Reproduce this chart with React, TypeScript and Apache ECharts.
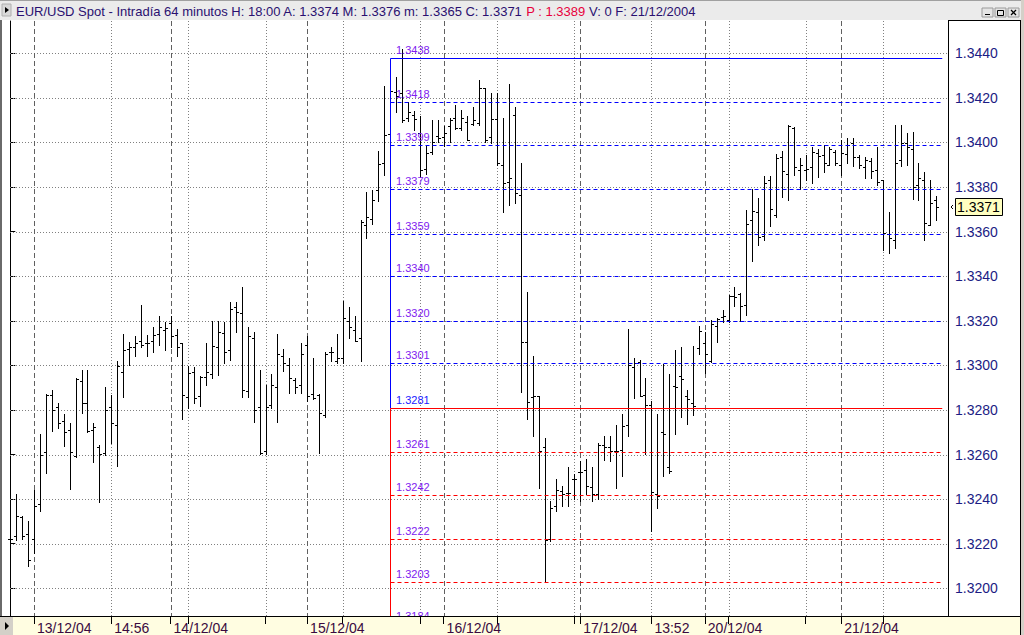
import React, { useEffect, useRef } from 'react';
import * as echarts from 'echarts';

// ---------- DATA (EUR/USD 64-minute bars, 13/12/04 - 21/12/04) ----------
const openP = [
  1.32220, 1.32233, 1.32320, 1.32242, 1.32220, 1.32380, 1.32611, 1.32865, 1.32812, 1.32750,
  1.32710, 1.32595, 1.32929, 1.32833, 1.32710, 1.32632, 1.32609, 1.32815, 1.32733, 1.32970,
  1.33075, 1.33081, 1.33110, 1.33100, 1.33110, 1.33139, 1.33160, 1.33192, 1.33138, 1.33100,
  1.32856, 1.32970, 1.32863, 1.32946, 1.32962, 1.33082, 1.33145, 1.33070, 1.33262, 1.33235,
  1.32884, 1.33123, 1.32815, 1.32617, 1.32821, 1.32905, 1.33043, 1.33003, 1.32935, 1.32911,
  1.33091, 1.32872, 1.32865, 1.32779, 1.33059, 1.33020, 1.33033, 1.33199, 1.33160, 1.33123,
  1.33630, 1.33658, 1.33787, 1.33907, 1.34038, 1.34226, 1.34221, 1.34110, 1.34123, 1.34041,
  1.33883, 1.33956, 1.34031, 1.34023, 1.34076, 1.34108, 1.34064, 1.34093, 1.34083, 1.34086,
  1.34243, 1.34026, 1.34104, 1.33899, 1.33822, 1.34123, 1.33764, 1.33105, 1.32858, 1.32863,
  1.32634, 1.32221, 1.32369, 1.32438, 1.32427, 1.32492, 1.32522, 1.32531, 1.32454, 1.32423,
  1.32643, 1.32634, 1.32617, 1.32620, 1.32733, 1.32994, 1.33015, 1.32867, 1.32822, 1.32423,
  1.32701, 1.32545, 1.32909, 1.32951, 1.32861, 1.32829, 1.33078, 1.33101, 1.33018, 1.33178,
  1.33218, 1.33202, 1.33311, 1.33322, 1.33271, 1.33652, 1.33690, 1.33581, 1.33832, 1.33675,
  1.33936, 1.33859, 1.34063, 1.33877, 1.33877, 1.33891, 1.33951, 1.33944, 1.33899, 1.33959,
  1.33899, 1.33948, 1.33996, 1.33936, 1.33891, 1.33918, 1.33877, 1.33832, 1.33590, 1.33563,
  1.33921, 1.33999, 1.33969, 1.33809, 1.33832, 1.33630, 1.33740
];
const highP = [
  1.32271, 1.32421, 1.32326, 1.32301, 1.32443, 1.32694, 1.32872, 1.32890, 1.32833, 1.32782,
  1.32740, 1.32944, 1.32980, 1.32980, 1.32742, 1.32644, 1.32905, 1.32865, 1.33020, 1.33142,
  1.33103, 1.33133, 1.33273, 1.33138, 1.33172, 1.33223, 1.33196, 1.33223, 1.33163, 1.33100,
  1.32995, 1.32992, 1.32953, 1.33100, 1.33199, 1.33199, 1.33193, 1.33283, 1.33283, 1.33352,
  1.33172, 1.33151, 1.32980, 1.32913, 1.32960, 1.33142, 1.33072, 1.33033, 1.32943, 1.33100,
  1.33133, 1.33034, 1.32871, 1.33058, 1.33082, 1.33142, 1.33290, 1.33262, 1.33223, 1.33652,
  1.33779, 1.33787, 1.33960, 1.34253, 1.34244, 1.34295, 1.34419, 1.34183, 1.34142, 1.34119,
  1.33989, 1.34101, 1.34101, 1.34076, 1.34108, 1.34168, 1.34146, 1.34119, 1.34158, 1.34280,
  1.34243, 1.34223, 1.34223, 1.34108, 1.34261, 1.34160, 1.33908, 1.33329, 1.33042, 1.32863,
  1.32674, 1.32393, 1.32490, 1.32460, 1.32544, 1.32513, 1.32572, 1.32582, 1.32544, 1.32652,
  1.32683, 1.32685, 1.32733, 1.32782, 1.33165, 1.33034, 1.33024, 1.32943, 1.32838, 1.32782,
  1.33005, 1.32961, 1.33069, 1.33083, 1.32890, 1.33085, 1.33178, 1.33150, 1.33204, 1.33213,
  1.33250, 1.33314, 1.33352, 1.33325, 1.33699, 1.33790, 1.33749, 1.33850, 1.33850, 1.33948,
  1.33963, 1.34078, 1.34068, 1.33929, 1.33944, 1.33981, 1.33969, 1.33989, 1.33978, 1.33966,
  1.34011, 1.34019, 1.34019, 1.33944, 1.33936, 1.33929, 1.33981, 1.33832, 1.33690, 1.34078,
  1.34078, 1.34041, 1.34048, 1.33906, 1.33869, 1.33832, 1.33760
];
const lowP = [
  1.32170, 1.32218, 1.32220, 1.32101, 1.32158, 1.32347, 1.32518, 1.32706, 1.32720, 1.32640,
  1.32446, 1.32590, 1.32788, 1.32703, 1.32568, 1.32388, 1.32600, 1.32650, 1.32549, 1.32860,
  1.33000, 1.33043, 1.33082, 1.33040, 1.33058, 1.33090, 1.33069, 1.33081, 1.33040, 1.32758,
  1.32810, 1.32829, 1.32820, 1.32910, 1.32943, 1.32959, 1.33009, 1.33025, 1.33148, 1.32860,
  1.32860, 1.32748, 1.32601, 1.32601, 1.32810, 1.32748, 1.32977, 1.32878, 1.32878, 1.32878,
  1.32838, 1.32851, 1.32608, 1.32770, 1.33018, 1.33010, 1.33010, 1.33123, 1.33108, 1.33020,
  1.33571, 1.33634, 1.33739, 1.33854, 1.33944, 1.34138, 1.34093, 1.34098, 1.34056, 1.33846,
  1.33859, 1.33949, 1.34001, 1.33986, 1.34001, 1.34059, 1.34056, 1.34011, 1.34078, 1.34078,
  1.34003, 1.33996, 1.33899, 1.33689, 1.33720, 1.33727, 1.32881, 1.32761, 1.32681, 1.32450,
  1.32033, 1.32212, 1.32348, 1.32369, 1.32369, 1.32401, 1.32393, 1.32425, 1.32393, 1.32401,
  1.32577, 1.32572, 1.32450, 1.32502, 1.32681, 1.32853, 1.32861, 1.32601, 1.32257, 1.32361,
  1.32502, 1.32518, 1.32690, 1.32769, 1.32737, 1.32777, 1.33050, 1.32966, 1.33015, 1.33106,
  1.33195, 1.33195, 1.33266, 1.33197, 1.33226, 1.33470, 1.33540, 1.33563, 1.33625, 1.33667,
  1.33757, 1.33742, 1.33854, 1.33790, 1.33832, 1.33817, 1.33847, 1.33869, 1.33899, 1.33899,
  1.33854, 1.33906, 1.33894, 1.33884, 1.33839, 1.33839, 1.33809, 1.33518, 1.33506, 1.33525,
  1.33894, 1.33899, 1.33746, 1.33742, 1.33563, 1.33630, 1.33650
];
const closeP = [
  1.32220, 1.32323, 1.32233, 1.32128, 1.32371, 1.32600, 1.32865, 1.32799, 1.32743, 1.32700,
  1.32611, 1.32941, 1.32833, 1.32706, 1.32725, 1.32602, 1.32800, 1.32740, 1.32995, 1.33070,
  1.33081, 1.33100, 1.33090, 1.33100, 1.33138, 1.33172, 1.33169, 1.33133, 1.33082, 1.32865,
  1.32965, 1.32854, 1.32950, 1.32970, 1.33085, 1.33151, 1.33060, 1.33255, 1.33241, 1.32890,
  1.33133, 1.32799, 1.32605, 1.32815, 1.32911, 1.33050, 1.33010, 1.32944, 1.32905, 1.33050,
  1.32863, 1.32853, 1.32785, 1.33050, 1.33059, 1.33033, 1.33211, 1.33171, 1.33110, 1.33643,
  1.33667, 1.33742, 1.33902, 1.34034, 1.34231, 1.34208, 1.34101, 1.34138, 1.34104, 1.33877,
  1.33951, 1.34001, 1.34018, 1.34041, 1.34101, 1.34064, 1.34108, 1.34011, 1.34101, 1.34243,
  1.34011, 1.34104, 1.33907, 1.33817, 1.33841, 1.33772, 1.33105, 1.32834, 1.32863, 1.32617,
  1.32215, 1.32360, 1.32441, 1.32423, 1.32427, 1.32489, 1.32522, 1.32460, 1.32423, 1.32643,
  1.32634, 1.32617, 1.32617, 1.32729, 1.33002, 1.33011, 1.32863, 1.32822, 1.32432, 1.32414,
  1.32690, 1.32524, 1.32903, 1.32941, 1.32849, 1.32818, 1.33154, 1.33050, 1.33186, 1.33210,
  1.33223, 1.33309, 1.33307, 1.33266, 1.33634, 1.33691, 1.33578, 1.33817, 1.33700, 1.33929,
  1.33874, 1.34074, 1.33891, 1.33899, 1.33880, 1.33959, 1.33939, 1.33906, 1.33969, 1.33906,
  1.33951, 1.33989, 1.33936, 1.33899, 1.33921, 1.33874, 1.33824, 1.33595, 1.33570, 1.33909,
  1.33996, 1.33981, 1.33799, 1.33839, 1.33640, 1.33727, 1.33710
];

const priceTicks = [1.3200, 1.3220, 1.3240, 1.3260, 1.3280, 1.3300, 1.3320, 1.3340, 1.3360, 1.3380, 1.3400, 1.3420, 1.3440];
const xLabelIdx = [4, 17, 27, 50, 73, 96, 108, 117, 140];
const xLabelText = ['13/12/04', '14:56', '14/12/04', '15/12/04', '16/12/04', '17/12/04', '13:52', '20/12/04', '21/12/04'];
const daySepIdx = [4, 27, 50, 73, 96, 117, 140];
const timeGridIdx = [4, 17, 30, 43, 56, 69, 82, 95, 108, 121, 134, 147];

const fibLevels = [1.3438, 1.3418, 1.3399, 1.3379, 1.3359, 1.3340, 1.3320, 1.3301, 1.3281, 1.3261, 1.3242, 1.3222, 1.3203, 1.3184];
const fibHigh = 1.3438;
const fibBase = 1.3281;
const fibStartIdx = 64;
const fibEndIdx = 157;

const titleName = 'EUR/USD Spot - Intradía 64 minutos';
const titleHour = '18:00';
const prevClose = 1.3389;
const volume = 0;
const titleDate = '21/12/2004';

const Y_MIN = 1.318757;
const Y_MAX = 1.345449;
const X_MIN = -1.23;
const X_MAX = 157.97;

const FONT = '"Liberation Sans", Arial, sans-serif';

export default function App() {
  const ref = useRef<HTMLDivElement>(null);

  useEffect(() => {
    if (!ref.current) return;
    const chart = echarts.init(ref.current, null, { renderer: 'svg' });
    const n = closeP.length;
    const ohlc = closeP.map((c, i) => [i, openP[i], highP[i], lowP[i], c]);
    const last = n - 1;

    const allTickIdx = Array.from(new Set([...timeGridIdx, ...daySepIdx])).sort((a, b) => a - b);

    const titleText =
      `{a|${titleName} H: ${titleHour} A: ${openP[last].toFixed(4)} M: ${highP[last].toFixed(4)} m: ${lowP[last].toFixed(4)} C: ${closeP[last].toFixed(4)} }` +
      `{p|P : ${prevClose.toFixed(4)}}` +
      `{a| V: ${volume} F: ${titleDate}}`;

    const option: any = {
      animation: false,
      backgroundColor: '#ffffff',
      grid: { left: 3, top: 21, right: 76, bottom: 19, containLabel: false },
      xAxis: {
        type: 'value',
        min: X_MIN,
        max: X_MAX,
        axisLine: { show: true, lineStyle: { color: '#000', width: 1 } },
        axisTick: { show: true, customValues: allTickIdx, length: 8, lineStyle: { color: '#000' } },
        axisLabel: {
          show: true,
          customValues: xLabelIdx,
          formatter: (v: number) => {
            const k = xLabelIdx.indexOf(Math.round(v));
            return k >= 0 ? xLabelText[k] : '';
          },
          align: 'left',
          padding: [0, 0, 0, 3],
          margin: 5,
          fontSize: 14,
          fontFamily: FONT,
          color: '#3a0a40',
        },
        splitLine: { show: false },
      },
      yAxis: {
        type: 'value',
        position: 'right',
        min: Y_MIN,
        max: Y_MAX,
        scale: true,
        axisLine: { show: true, lineStyle: { color: '#000', width: 1 } },
        axisTick: { show: true, customValues: priceTicks, length: 5, lineStyle: { color: '#000' } },
        axisLabel: {
          show: true,
          customValues: priceTicks,
          formatter: (v: number) => v.toFixed(4),
          margin: 7,
          fontSize: 14,
          fontFamily: FONT,
          color: '#1c1c84',
        },
        splitLine: { show: false },
      },
      graphic: [
        { type: 'rect', z: -5, shape: { x: 0, y: 0, width: 1024, height: 20 }, style: { fill: '#ebebeb' } },
        { type: 'rect', z: -5, shape: { x: 0, y: 0, width: 1024, height: 1 }, style: { fill: '#a0a0a0' } },
        { type: 'rect', z: -5, shape: { x: 2, y: 4, width: 9, height: 12 }, style: { fill: '#d8d8d8', stroke: '#b0b0b0', lineWidth: 1 } },
        { type: 'polygon', z: -4, shape: { points: [[5, 7], [9, 10], [5, 13]] }, style: { fill: '#000' } },
        {
          type: 'text', z: -4, x: 16, y: 11,
          style: {
            text: titleText,
            font: `13px ${FONT}`,
            verticalAlign: 'middle',
            rich: {
              a: { fill: '#2a1070', font: `13px ${FONT}` },
              p: { fill: '#e8003c', font: `13px ${FONT}` },
            },
          },
        },
        // window buttons
        { type: 'rect', z: -4, shape: { x: 982, y: 8, width: 11, height: 9 }, style: { fill: '#e4e4e4', stroke: '#9a9a9a', lineWidth: 1 } },
        { type: 'rect', z: -3, shape: { x: 985, y: 14, width: 5, height: 1 }, style: { fill: '#000' } },
        { type: 'rect', z: -4, shape: { x: 995, y: 8, width: 11, height: 9 }, style: { fill: '#e4e4e4', stroke: '#9a9a9a', lineWidth: 1 } },
        { type: 'rect', z: -3, shape: { x: 997.5, y: 10.5, width: 6, height: 5 }, style: { fill: 'none', stroke: '#000', lineWidth: 1 } },
        { type: 'rect', z: -4, shape: { x: 1008, y: 8, width: 11, height: 9 }, style: { fill: '#e4e4e4', stroke: '#9a9a9a', lineWidth: 1 } },
        { type: 'line', z: -3, shape: { x1: 1011, y1: 10, x2: 1016, y2: 15 }, style: { stroke: '#000', lineWidth: 1.3 } },
        { type: 'line', z: -3, shape: { x1: 1016, y1: 10, x2: 1011, y2: 15 }, style: { stroke: '#000', lineWidth: 1.3 } },
        // right axis box
        { type: 'line', z: -3, shape: { x1: 948, y1: 20.5, x2: 1021, y2: 20.5 }, style: { stroke: '#000', lineWidth: 1 } },
        { type: 'line', z: -3, shape: { x1: 948.5, y1: 20, x2: 948.5, y2: 617 }, style: { stroke: '#000', lineWidth: 1 } },
        { type: 'line', z: -3, shape: { x1: 1020.5, y1: 20, x2: 1020.5, y2: 635 }, style: { stroke: '#000', lineWidth: 1 } },
        { type: 'rect', z: -5, shape: { x: 1021, y: 0, width: 3, height: 635 }, style: { fill: '#d4d0c8' } },
        // left border
        { type: 'rect', z: -5, shape: { x: 0, y: 20, width: 2, height: 597 }, style: { fill: '#6a6a6a' } },
        // bottom strip
        { type: 'rect', z: -5, shape: { x: 0, y: 617, width: 1021, height: 18 }, style: { fill: '#fffde1' } },
        { type: 'line', z: -3, shape: { x1: 0, y1: 616.5, x2: 1021, y2: 616.5 }, style: { stroke: '#000', lineWidth: 1 } },
        { type: 'rect', z: -4, shape: { x: 0, y: 617, width: 13, height: 18 }, style: { fill: '#d4d0c8' } },
        { type: 'polygon', z: -3, shape: { points: [[5, 622], [9, 626], [5, 630]] }, style: { fill: '#000' } },
      ],
      series: [
        // horizontal dotted grid
        {
          type: 'custom', silent: true, z: 1, clip: false,
          data: priceTicks.map((v) => [0, v]),
          renderItem: (params: any, api: any) => {
            const cs = params.coordSys;
            const p = api.coord([0, api.value(1)]);
            const y = Math.round(p[1]) + 0.5;
            return { type: 'line', shape: { x1: cs.x + 7, y1: y, x2: cs.x + cs.width, y2: y }, style: { stroke: '#808080', lineWidth: 1, lineDash: [1, 2] } };
          },
        },
        // vertical dotted time grid
        {
          type: 'custom', silent: true, z: 1, clip: false,
          data: timeGridIdx.filter((v) => daySepIdx.indexOf(v) < 0).map((v) => [v, Y_MIN]),
          renderItem: (params: any, api: any) => {
            const cs = params.coordSys;
            const p = api.coord([api.value(0), Y_MIN]);
            const x = Math.round(p[0]) + 0.5;
            return { type: 'line', shape: { x1: x, y1: cs.y, x2: x, y2: cs.y + cs.height }, style: { stroke: '#808080', lineWidth: 1, lineDash: [1, 2] } };
          },
        },
        // vertical dashed day separators
        {
          type: 'custom', silent: true, z: 1, clip: false,
          data: daySepIdx.map((v) => [v, Y_MIN]),
          renderItem: (params: any, api: any) => {
            const cs = params.coordSys;
            const p = api.coord([api.value(0), Y_MIN]);
            const x = Math.round(p[0]) + 0.5;
            return { type: 'line', shape: { x1: x, y1: cs.y, x2: x, y2: cs.y + cs.height }, style: { stroke: '#606060', lineWidth: 1, lineDash: [5, 3] } };
          },
        },
        // OHLC bars
        {
          type: 'custom', silent: true, z: 3,
          data: ohlc,
          encode: { x: 0, y: [1, 2, 3, 4] },
          renderItem: (params: any, api: any) => {
            const i = api.value(0);
            const o = api.coord([i, api.value(1)]);
            const h = api.coord([i, api.value(2)]);
            const l = api.coord([i, api.value(3)]);
            const c = api.coord([i, api.value(4)]);
            const px = Math.round(h[0]);
            const x = px + 0.5;
            const yo = Math.round(o[1]) + 0.5;
            const yc = Math.round(c[1]) + 0.5;
            const st = { stroke: '#000', lineWidth: 1 };
            return {
              type: 'group',
              children: [
                { type: 'line', shape: { x1: x, y1: Math.round(h[1]), x2: x, y2: Math.round(l[1]) + 1 }, style: st },
                { type: 'line', shape: { x1: px - 2, y1: yo, x2: px, y2: yo }, style: st },
                { type: 'line', shape: { x1: px + 1, y1: yc, x2: px + 3, y2: yc }, style: st },
              ],
            };
          },
        },
        // Fibonacci-style levels
        {
          type: 'custom', silent: true, z: 4, clip: true,
          data: fibLevels.map((v, k) => [k, v]),
          renderItem: (params: any, api: any) => {
            const k = api.value(0);
            const lvl = api.value(1);
            const s = api.coord([fibStartIdx, lvl]);
            const e = api.coord([fibEndIdx, lvl]);
            const y = Math.round(s[1]) + 0.5;
            const xs = Math.round(s[0]) + 0.5;
            const above = lvl > fibBase + 1e-9;
            const isBase = Math.abs(lvl - fibBase) < 1e-9;
            const isTop = Math.abs(lvl - fibHigh) < 1e-9;
            const color = above ? '#0000ff' : '#ff0000';
            const children: any[] = [
              { type: 'line', shape: { x1: xs, y1: y, x2: e[0], y2: y }, style: { stroke: color, lineWidth: 1, lineDash: isTop || isBase ? null : [4, 3] } },
              {
                type: 'text',
                x: xs + 5.5, y: y - 3.5,
                style: { text: lvl.toFixed(4), fill: isBase ? '#2020ff' : '#8020f0', font: `11px ${FONT}`, align: 'left', verticalAlign: 'bottom' },
              },
            ];
            if (k === 0) {
              const b = api.coord([fibStartIdx, fibBase]);
              const m = api.coord([fibStartIdx, Y_MIN]);
              children.push({ type: 'line', shape: { x1: xs, y1: y, x2: xs, y2: Math.round(b[1]) + 0.5 }, style: { stroke: '#0000ff', lineWidth: 1 } });
              children.push({ type: 'line', shape: { x1: xs, y1: Math.round(b[1]) + 0.5, x2: xs, y2: m[1] }, style: { stroke: '#ff0000', lineWidth: 1 } });
            }
            return { type: 'group', children };
          },
        },
        // last price marker on the right scale
        {
          type: 'custom', silent: true, z: 5, clip: false,
          data: [[last, closeP[last]]],
          renderItem: (params: any, api: any) => {
            const cs = params.coordSys;
            const p = api.coord([api.value(0), api.value(1)]);
            const xr = cs.x + cs.width;
            const y = Math.round(p[1]);
            return {
              type: 'group',
              children: [
                { type: 'rect', shape: { x: xr + 7.5, y: y - 8.5, width: 47, height: 17 }, style: { fill: '#ffffc0', stroke: '#000', lineWidth: 1 } },
                { type: 'text', x: xr + 9, y: y, style: { text: api.value(1).toFixed(4), fill: '#000', font: `14px ${FONT}`, align: 'left', verticalAlign: 'middle' } },
                { type: 'polyline', shape: { points: [[xr + 5, y - 2], [xr + 3, y], [xr + 5, y + 2]] }, style: { stroke: '#000', lineWidth: 1, fill: null } },
              ],
            };
          },
        },
      ],
    };

    chart.setOption(option);
    return () => chart.dispose();
  }, []);

  return <div ref={ref} style={{ position: 'absolute', left: 0, top: 0, width: 1024, height: 635 }} />;
}
